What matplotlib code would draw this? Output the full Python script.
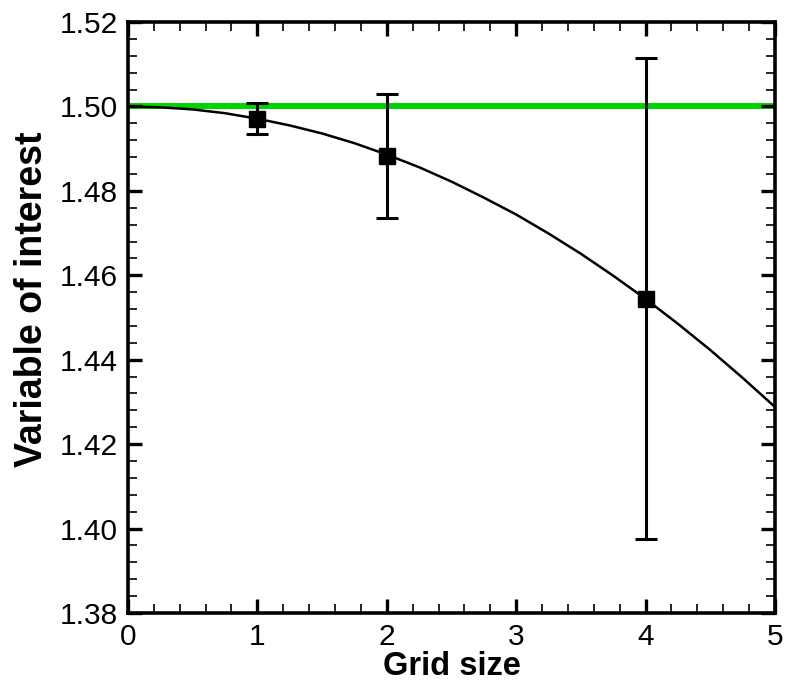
import matplotlib
matplotlib.use("Agg")
import matplotlib.pyplot as plt
from matplotlib.ticker import MultipleLocator

plt.rcParams['font.family'] = ['Liberation Sans', 'DejaVu Sans']

# exact (reference) value
exact_value = 1.50

# fitted curve
curve_x = [0.0, 0.25, 0.5, 0.75, 1.0, 1.25, 1.5, 1.75, 2.0, 2.25, 2.5,
           2.75, 3.0, 3.25, 3.5, 3.75, 4.0, 4.25, 4.5, 4.75, 5.0]
curve_y = [1.5000, 1.4998, 1.4993, 1.4984, 1.4971, 1.4955, 1.4936, 1.4913,
           1.4886, 1.4856, 1.4822, 1.4784, 1.4744, 1.4699, 1.4651, 1.4599,
           1.4544, 1.4485, 1.4423, 1.4357, 1.4288]

# solutions on each grid, with error bar ends
grid = [1, 2, 4]
value = [1.4970, 1.4883, 1.4544]
err_low = [1.4934, 1.4736, 1.3975]
err_high = [1.5009, 1.5030, 1.5115]

yerr = [[v - lo for v, lo in zip(value, err_low)],
        [hi - v for v, hi in zip(value, err_high)]]

fig = plt.figure(figsize=(7.86, 6.82), dpi=100)
ax = fig.add_axes([0.1628, 0.1012, 0.8232, 0.8665])

ax.axhline(exact_value, color='#00d400', lw=4.3, zorder=1)
ax.plot(curve_x, curve_y, color='black', lw=1.8, zorder=2)
ax.errorbar(grid, value, yerr=yerr, fmt='s', color='black', ms=12,
            elinewidth=2.2, capsize=8, capthick=2.2, zorder=3)

ax.set_xlim(0, 5)
ax.set_ylim(1.38, 1.52)
ax.xaxis.set_major_locator(MultipleLocator(1))
ax.xaxis.set_minor_locator(MultipleLocator(0.2))
ax.yaxis.set_major_locator(MultipleLocator(0.02))
ax.yaxis.set_minor_locator(MultipleLocator(0.004))
ax.yaxis.set_major_formatter(plt.FormatStrFormatter('%.2f'))

ax.tick_params(which='both', direction='in', top=True, right=True)
ax.tick_params(which='major', length=10, width=2.4, labelsize=21.5, pad=7)
ax.tick_params(which='minor', length=6.5, width=1.2)
for s in ax.spines.values():
    s.set_linewidth(2.6)

ax.set_xlabel('Grid size', fontsize=23.5, fontweight='bold', labelpad=0)
ax.set_ylabel('Variable of interest', fontsize=27, fontweight='bold')
ax.yaxis.set_label_coords(-0.121, 0.531)

fig.savefig('out.png', dpi=100)
